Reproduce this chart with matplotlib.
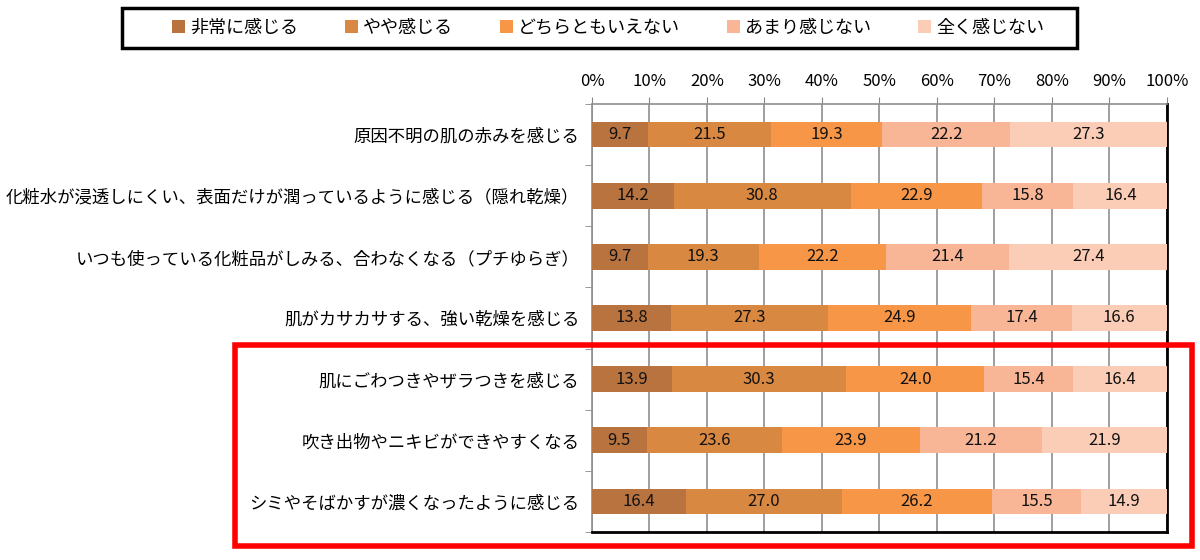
import matplotlib.pyplot as plt
from matplotlib.patches import Rectangle
import numpy as np

plt.rcParams['font.family'] = ['Noto Sans CJK JP', 'DejaVu Sans']

items = ['原因不明の肌の赤みを感じる',
         '化粧水が浸透しにくい、表面だけが潤っているように感じる（隠れ乾燥）',
         'いつも使っている化粧品がしみる、合わなくなる（プチゆらぎ）',
         '肌がカサカサする、強い乾燥を感じる',
         '肌にごわつきやザラつきを感じる',
         '吹き出物やニキビができやすくなる',
         'シミやそばかすが濃くなったように感じる']
answers = ['非常に感じる', 'やや感じる', 'どちらともいえない', 'あまり感じない', '全く感じない']

very = [9.7, 14.2, 9.7, 13.8, 13.9, 9.5, 16.4]
some = [21.5, 30.8, 19.3, 27.3, 30.3, 23.6, 27.0]
neutral = [19.3, 22.9, 22.2, 24.9, 24.0, 23.9, 26.2]
little = [22.2, 15.8, 21.4, 17.4, 15.4, 21.2, 15.5]
none_ = [27.3, 16.4, 27.4, 16.6, 16.4, 21.9, 14.9]

colors = ['#B8733F', '#D98842', '#F79646', '#F8B696', '#FBCDB6']

series = [very, some, neutral, little, none_]

fig = plt.figure(figsize=(12, 5.6), dpi=100)
ax = fig.add_axes([0.4933, 0.05, 0.4792, 0.7643])

y = np.arange(len(items))
left = np.zeros(len(items))
handles = []
for vals, col, name in zip(series, colors, answers):
    vals = np.array(vals)
    h = ax.barh(y, vals, left=left, height=0.42, color=col, label=name, zorder=3)
    handles.append(h)
    for yi, l, v in zip(y, left, vals):
        ax.text(l + v / 2, yi, f'{v:.1f}', ha='center', va='center',
                fontsize=12, color='#111111', zorder=4)
    left += vals

ax.set_xlim(0, 100)
ax.set_ylim(len(items) - 0.5, -0.5)
ax.set_xticks(np.arange(0, 101, 10))
ax.set_xticklabels([f'{t}%' for t in range(0, 101, 10)], fontsize=12)
ax.xaxis.tick_top()
ax.tick_params(axis='x', length=5, color='#888888', pad=5)
ax.grid(axis='x', color='#8f8f8f', linewidth=1.2, zorder=0)

ax.set_yticks(y)
ax.set_yticklabels(items, fontsize=12.5)
ax.tick_params(axis='y', which='major', length=0, pad=9)
ax.set_yticks(np.arange(-0.5, len(items), 1), minor=True)
ax.tick_params(axis='y', which='minor', length=5, color='#888888')

for s in ['top', 'left']:
    ax.spines[s].set_color('#8f8f8f')
    ax.spines[s].set_linewidth(1.2)
for s in ['right', 'bottom']:
    ax.spines[s].set_color('black')
    ax.spines[s].set_linewidth(2)

# legend entries, with a separate frame box like the original
fig.legend(handles=handles, loc='center', ncol=5,
           bbox_to_anchor=(608 / 1200, 1 - 28 / 560),
           fontsize=13, handlelength=0.7, handleheight=0.7,
           handletextpad=0.3, columnspacing=2.6, frameon=False,
           borderaxespad=0, borderpad=0)
fig.patches.append(Rectangle((122 / 1200, 1 - 48 / 560), (1077 - 122) / 1200,
                             40 / 560, transform=fig.transFigure,
                             fill=False, edgecolor='black', linewidth=2.5))

fig.patches.append(Rectangle((235 / 1200, 1 - 546 / 560), (1192 - 235) / 1200,
                             (546 - 345) / 560, transform=fig.transFigure,
                             fill=False, edgecolor='#FF0000', linewidth=4))

fig.savefig('out.png', dpi=100)
